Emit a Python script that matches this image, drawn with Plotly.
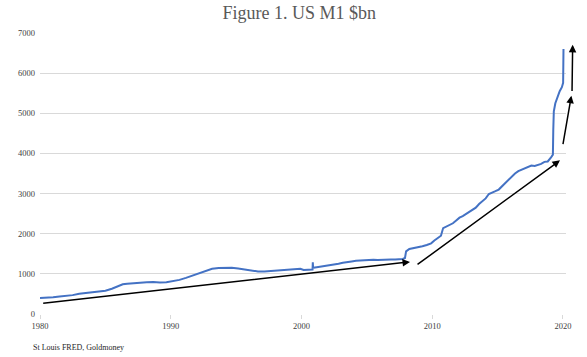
import plotly.graph_objects as go
import pandas as pd

# ---- data ----
dates = [
    "1980-01-01", "1980-07-01", "1981-01-01", "1981-07-01", "1982-01-01", "1982-07-01",
    "1983-01-01", "1983-07-01", "1984-01-01", "1984-07-01", "1985-01-01", "1985-07-01",
    "1986-01-01", "1986-05-01", "1986-09-01", "1987-03-01", "1987-09-01", "1988-03-01",
    "1988-09-01", "1989-03-01", "1989-09-01", "1990-03-01", "1990-09-01", "1991-03-01",
    "1991-09-01", "1992-03-01", "1992-09-01", "1993-03-01", "1993-09-01", "1994-03-01",
    "1994-09-01", "1995-03-01", "1995-09-01", "1996-03-01", "1996-09-01", "1997-03-01",
    "1997-09-01", "1998-03-01", "1998-09-01", "1999-03-01", "1999-09-01", "1999-12-01",
    "2000-03-01", "2000-09-01", "2000-11-05", "2000-11-12", "2000-11-20", "2001-03-01",
    "2001-07-01", "2001-11-01", "2002-03-01", "2002-07-01", "2002-11-01", "2003-03-01",
    "2003-07-01", "2003-11-01", "2004-03-01", "2004-07-01", "2004-11-01", "2005-03-01",
    "2005-07-01", "2005-11-01", "2006-03-01", "2006-07-01", "2006-11-01", "2007-03-01",
    "2007-07-01", "2007-10-01", "2007-12-01", "2008-01-01", "2008-04-01", "2008-08-01",
    "2008-12-01", "2009-04-01", "2009-08-01", "2009-12-01", "2010-03-01", "2010-06-01",
    "2010-09-01", "2010-11-01", "2011-02-01", "2011-05-01", "2011-08-01", "2011-11-01",
    "2012-02-01", "2012-05-01", "2012-08-01", "2012-11-01", "2013-02-01", "2013-05-01",
    "2013-08-01", "2013-11-01", "2014-02-01", "2014-05-01", "2014-08-01", "2014-11-01",
    "2015-02-01", "2015-05-01", "2015-08-01", "2015-11-01", "2016-02-01", "2016-05-01",
    "2016-08-01", "2016-11-01", "2017-02-01", "2017-05-01", "2017-08-01", "2017-11-01",
    "2018-02-01", "2018-05-01", "2018-08-01", "2018-11-01", "2019-02-01", "2019-03-25",
    "2019-04-05", "2019-04-20", "2019-06-01", "2019-08-01", "2019-10-01", "2019-12-01",
    "2020-01-05", "2020-01-15",
]
m1_bn = [
    400, 405, 420, 435, 448, 470,
    505, 525, 538, 555, 580, 630,
    690, 740, 755, 770, 778, 790,
    795, 782, 792, 815, 850, 900,
    960, 1010, 1070, 1125, 1148, 1155,
    1150, 1135, 1105, 1080, 1060, 1060,
    1070, 1075, 1085, 1095, 1110, 1125,
    1095, 1100, 1110, 1290, 1150, 1165,
    1180, 1195, 1215, 1235, 1250, 1275,
    1300, 1310, 1325, 1335, 1340, 1345,
    1350, 1345, 1355, 1350, 1360, 1358,
    1362, 1370, 1395, 1560, 1620, 1640,
    1672, 1690, 1720, 1760, 1830, 1880,
    1950, 2140, 2180, 2215, 2260, 2330,
    2400, 2440, 2490, 2540, 2580, 2650,
    2740, 2800, 2880, 2990, 3020, 3060,
    3100, 3180, 3270, 3340, 3420, 3500,
    3560, 3600, 3640, 3670, 3700, 3690,
    3720, 3740, 3790, 3800, 3900, 3970,
    4600, 5050, 5250, 5420, 5550, 5650,
    5760, 6600,
]

# trend arrows: (tail year, tail value, head year, head value)
arrow_tail_year = [1980.13, 2008.76, 2019.98, 2020.69]
arrow_tail_val = [261, 1207, 4192, 5518]
arrow_head_year = [2008.30, 2019.77, 2020.64, 2020.74]
arrow_head_val = [1298, 3827, 5436, 6705]

y_ticks = [0, 1000, 2000, 3000, 4000, 5000, 6000, 7000]
x_tick_years = [1980, 1990, 2000, 2010, 2020]

title_text = "Figure 1. US M1 $bn"
source_text = "St Louis FRED, Goldmoney"

# ---- layout constants ----
W, H = 587, 357
ML, MR, MT, MB = 40, 21, 33, 43
PW, PH = W - ML - MR, H - MT - MB
X0, X1 = 1980.0, 2020.23
Y0, Y1 = 0, 7000


def year_to_date(y):
    yr = int(y)
    start = pd.Timestamp(year=yr, month=1, day=1)
    end = pd.Timestamp(year=yr + 1, month=1, day=1)
    return (start + (end - start) * (y - yr)).strftime("%Y-%m-%d %H:%M")


def fx(y):
    return (y - X0) / (X1 - X0)


def fy(v):
    return (v - Y0) / (Y1 - Y0)


fig = go.Figure()
fig.add_trace(go.Scatter(
    x=dates, y=m1_bn, mode="lines",
    line=dict(color="#4472C4", width=2),
    hoverinfo="skip", showlegend=False,
))

serif = "Liberation Serif, Times New Roman, serif"

annotations = []
for ty, tv, hy, hv in zip(arrow_tail_year, arrow_tail_val, arrow_head_year, arrow_head_val):
    annotations.append(dict(
        xref="paper", yref="paper", x=fx(hy), y=fy(hv),
        axref="pixel", ayref="pixel",
        ax=(fx(ty) - fx(hy)) * PW, ay=-(fy(tv) - fy(hv)) * PH,
        showarrow=True, arrowhead=2, arrowsize=1, arrowwidth=1.5,
        arrowcolor="#000000", standoff=0, startstandoff=0, text="",
    ))

annotations.append(dict(
    xref="paper", yref="paper", x=(31 - ML) / PW, y=-(347.7 - (H - MB)) / PH,
    xanchor="left", yanchor="middle", showarrow=False, text=source_text,
    font=dict(family=serif, size=8, color="#262626"),
))

fig.update_layout(
    width=W, height=H,
    margin=dict(l=ML, r=MR, t=MT, b=MB),
    paper_bgcolor="white", plot_bgcolor="white",
    title=dict(text=title_text, xref="container", yref="container",
               x=299.2 / W, y=1 - 13 / H, xanchor="center", yanchor="middle",
               font=dict(family=serif, size=18, color="#595959")),
    xaxis=dict(
        type="date", range=[year_to_date(X0), year_to_date(X1)],
        tickvals=[f"{y}-01-01" for y in x_tick_years],
        ticktext=[str(y) for y in x_tick_years],
        showgrid=False, zeroline=False, showline=False,
        ticks="outside", ticklen=4, tickcolor="#d9d9d9",
        tickfont=dict(family=serif, size=8.5, color="#404040"),
    ),
    yaxis=dict(
        range=[Y0, Y1], tickvals=y_ticks,
        showgrid=True, gridcolor="#d9d9d9", gridwidth=1,
        zeroline=False, showline=False, ticks="",
        tickfont=dict(family=serif, size=8.5, color="#404040"),
        ticklabelstandoff=4,
    ),
    annotations=annotations,
)

fig.write_html(
    "out.html",
    config={"displayModeBar": False},
    post_script="document.body.style.margin='0';document.body.style.padding='0';",
)
